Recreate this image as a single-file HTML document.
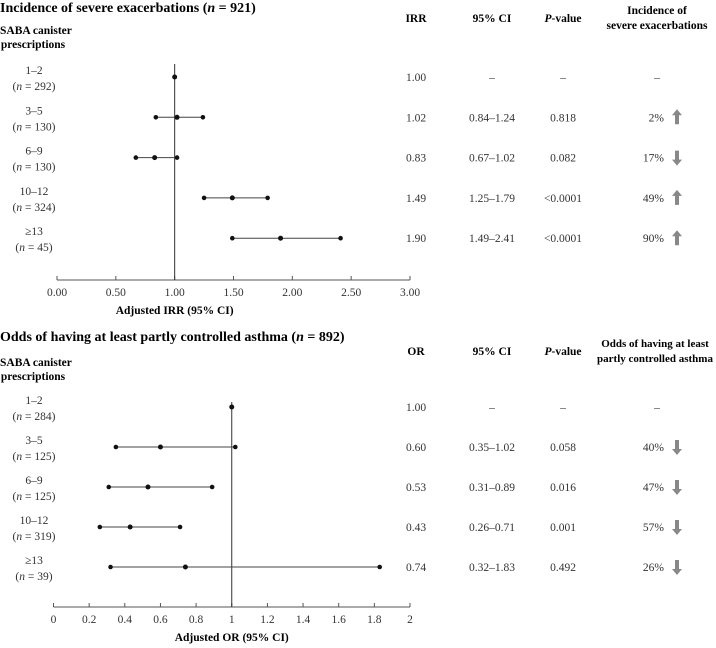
<!DOCTYPE html>
<html><head><meta charset="utf-8"><style>
html,body{margin:0;padding:0;background:#fff;}
svg{display:block;font-family:"Liberation Serif",serif;}
</style></head><body>
<svg id="chart" width="716" height="648" viewBox="0 0 716 648"></svg>
<script>
// Panel A data
const catsA = ["1–2","3–5","6–9","10–12","≥13"];
const nA = [292,130,130,324,45];
const irr = [1.00,1.02,0.83,1.49,1.90];
const irrLo = [null,0.84,0.67,1.25,1.49];
const irrHi = [null,1.24,1.02,1.79,2.41];
const ciTextA = ["–","0.84–1.24","0.67–1.02","1.25–1.79","1.49–2.41"];
const pTextA = ["–","0.818","0.082","<0.0001","<0.0001"];
const pctA = ["–","2%","17%","49%","90%"];
const dirA = [0,1,-1,1,1];
const ticksA = [0,0.5,1,1.5,2,2.5,3];
const tickLabA = ["0.00","0.50","1.00","1.50","2.00","2.50","3.00"];
// Panel B data
const catsB = ["1–2","3–5","6–9","10–12","≥13"];
const nB = [284,125,125,319,39];
const orv = [1.00,0.60,0.53,0.43,0.74];
const orLo = [null,0.35,0.31,0.26,0.32];
const orHi = [null,1.02,0.89,0.71,1.83];
const ciTextB = ["–","0.35–1.02","0.31–0.89","0.26–0.71","0.32–1.83"];
const pTextB = ["–","0.058","0.016","0.001","0.492"];
const pctB = ["–","40%","47%","57%","26%"];
const dirB = [0,-1,-1,-1,-1];
const ticksB = [0,0.2,0.4,0.6,0.8,1,1.2,1.4,1.6,1.8,2];
const tickLabB = ["0","0.2","0.4","0.6","0.8","1","1.2","1.4","1.6","1.8","2"];

const svg = document.getElementById('chart');
const NS = "http://www.w3.org/2000/svg";
function mk(tag, attrs, parent, txt){
  const e = document.createElementNS(NS, tag);
  for (const k in attrs) e.setAttribute(k, attrs[k]);
  if (txt !== undefined) e.textContent = txt;
  (parent||svg).appendChild(e);
  return e;
}

function panel(o){
  const g = mk('g',{});
  
  
  const x = v => o.x0 + (v - o.dmin) / (o.dmax - o.dmin) * (o.x1 - o.x0);
  const y = i => o.rowY0 + i * o.rowStep;
  const t = mk('text',{x:0,y:o.titleY,'font-size':14,'font-weight':'bold'},g);
  
  
  t.innerHTML = o.titleA + '<tspan font-style="italic">n</tspan> = ' + o.titleN + ')';
  const rh = mk('text',{x:0,y:o.hdrY-6,'font-size':11.5,'font-weight':'bold'},g,'SABA canister');
  
  
  mk('text',{x:33,y:o.hdrY+8,'font-size':11.5,'font-weight':'bold','text-anchor':'middle'},g,'prescriptions');
  const cy = o.colHdrY;
  [[o.colEst,o.estName],[492,'95% CI']].forEach(h=>{
    const e = mk('text',{x:h[0],y:cy,'font-size':11.5,'font-weight':'bold','text-anchor':'middle'},g,h[1]);
    
    
  });
  const ph = mk('text',{x:563,y:cy,'font-size':11.5,'font-weight':'bold','text-anchor':'middle'},g);
  
  
  ph.innerHTML = '<tspan font-style="italic">P</tspan>-value';
  const oh = mk('text',{x:o.outX,y:cy-8,'font-size':o.outFs,'font-weight':'bold','text-anchor':'middle'},g,o.outA);
  
  
  mk('text',{x:o.outX,y:cy+7,'font-size':o.outFs,'font-weight':'bold','text-anchor':'middle'},g,o.outB);
  const ax = mk('line',{x1:o.x0,x2:o.x1,y1:o.axisY,y2:o.axisY,stroke:'#555','stroke-width':1},g);
  
  
  o.ticks.forEach((v,i)=>{
    mk('line',{x1:x(v),x2:x(v),y1:o.axisY,y2:o.axisY-4,stroke:'#555'},g);
    const tl = mk('text',{x:x(v),y:o.axisY+16,'font-size':11.5,'text-anchor':'middle',fill:'#333'},g,o.tickLab[i]);
    
    
  });
  const at = mk('text',{x:x(o.ref),y:o.axisY+34,'font-size':11.5,'font-weight':'bold','text-anchor':'middle'},g,o.axTitle);
  
  
  const rl = mk('line',{x1:x(o.ref),x2:x(o.ref),y1:o.refTop,y2:o.axisY,stroke:'#333','stroke-width':1},g);
  
  
  o.est.forEach((v,i)=>{
    const yy = y(i);
    const l1 = mk('text',{x:34,y:yy-3,'font-size':11.5,'text-anchor':'middle',fill:'#333'},g,o.cats[i]);
    
    
    const l2 = mk('text',{x:34,y:yy+13,'font-size':11.5,'text-anchor':'middle',fill:'#333'},g);
    l2.innerHTML = '(<tspan font-style="italic">n</tspan> = ' + o.n[i] + ')';
    if (o.lo[i] !== null){
      const ci = mk('line',{x1:x(o.lo[i]),x2:x(o.hi[i]),y1:yy,y2:yy,stroke:'#444','stroke-width':1},g);
      
      
      mk('circle',{cx:x(o.lo[i]),cy:yy,r:2.3,fill:'#111'},g);
      mk('circle',{cx:x(o.hi[i]),cy:yy,r:2.3,fill:'#111'},g);
    }
    const pt = mk('circle',{cx:x(v),cy:yy,r:2.5,fill:'#111'},g);
    
    
    mk('text',{x:o.colEst,y:yy+4,'font-size':11.5,'text-anchor':'middle',fill:'#333'},g,v.toFixed(2));
    mk('text',{x:492,y:yy+4,'font-size':11.5,'text-anchor':'middle',fill:'#333'},g,o.ciText[i]);
    mk('text',{x:563,y:yy+4,'font-size':11.5,'text-anchor':'middle',fill:'#333'},g,o.pText[i]);
    if (o.dir[i]===0){
      mk('text',{x:657,y:yy+4,'font-size':11.5,'text-anchor':'middle',fill:'#333'},g,'–');
    } else {
      mk('text',{x:664,y:yy+4,'font-size':11.5,'text-anchor':'end',fill:'#333'},g,o.pct[i]);
      const ar = o.dir[i]>0
        ? `M677,${yy-8} L682,${yy-2} L679,${yy-2} L679,${yy+7} L675,${yy+7} L675,${yy-2} L672,${yy-2} Z`
        : `M677,${yy+8} L682,${yy+2} L679,${yy+2} L679,${yy-7} L675,${yy-7} L675,${yy+2} L672,${yy+2} Z`;
      const a = mk('path',{d:ar,fill:'#888'},g);
      
      
    }
  });
}

panel({name:'panel-exacerbations',titleA:'Incidence of severe exacerbations (',titleN:'921',titleY:12,
  hdrY:40,colHdrY:22,estName:'IRR',colEst:416,outA:'Incidence of',outB:'severe exacerbations',outX:657,outFs:11.5,
  x0:57,x1:410,dmin:0,dmax:3,ref:1,axisY:280,refTop:64,rowY0:77,rowStep:40.3,
  ticks:ticksA,tickLab:tickLabA,axTitle:'Adjusted IRR (95% CI)',
  cats:catsA,n:nA,est:irr,lo:irrLo,hi:irrHi,ciText:ciTextA,pText:pTextA,pct:pctA,dir:dirA});
panel({name:'panel-asthma-control',titleA:'Odds of having at least partly controlled asthma (',titleN:'892',titleY:341,
  hdrY:372,colHdrY:355,estName:'OR',colEst:416,outA:'Odds of having at least',outB:'partly controlled asthma',outX:655,outFs:11,
  x0:53.5,x1:410,dmin:0,dmax:2,ref:1,axisY:607,refTop:402,rowY0:407,rowStep:40,
  ticks:ticksB,tickLab:tickLabB,axTitle:'Adjusted OR (95% CI)',
  cats:catsB,n:nB,est:orv,lo:orLo,hi:orHi,ciText:ciTextB,pText:pTextB,pct:pctB,dir:dirB});
</script>
</body></html>
